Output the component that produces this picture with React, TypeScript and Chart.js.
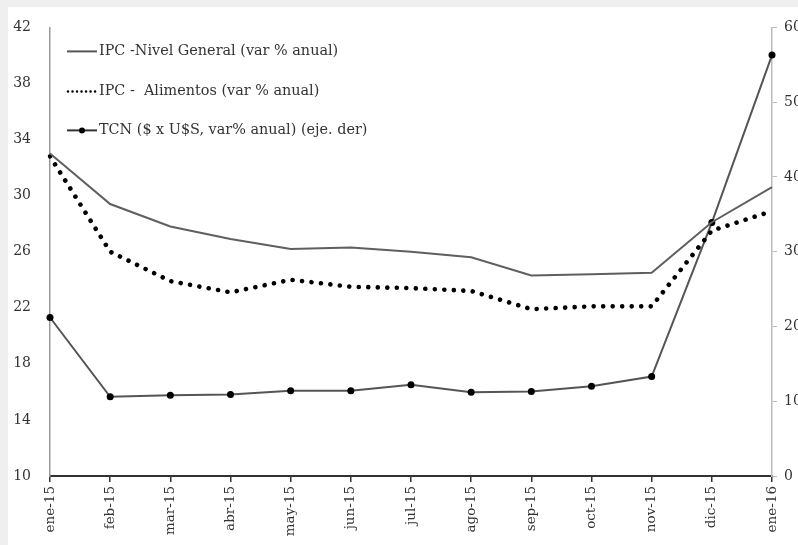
import { useEffect, useRef } from "react";
import { Chart, registerables } from "chart.js";

Chart.register(...registerables);

const categories = [
  "ene-15", "feb-15", "mar-15", "abr-15", "may-15", "jun-15", "jul-15",
  "ago-15", "sep-15", "oct-15", "nov-15", "dic-15", "ene-16",
];
const ipcGeneral = [33.0, 29.4, 27.8, 26.9, 26.2, 26.3, 26.0, 25.6, 24.3, 24.4, 24.5, 28.1, 30.6];
const ipcAlimentos = [32.8, 26.0, 23.9, 23.1, 24.0, 23.5, 23.4, 23.2, 21.9, 22.1, 22.1, 27.5, 28.9];
const tcn = [21.2, 10.6, 10.8, 10.9, 11.4, 11.4, 12.2, 11.2, 11.3, 12.0, 13.3, 33.9, 56.3];
const seriesLabels = [
  "IPC -Nivel General (var % anual)",
  "IPC -  Alimentos (var % anual)",
  "TCN ($ x U$S, var% anual) (eje. der)",
];
const leftAxis = { min: 10, max: 42, step: 4 };
const rightAxis = { min: 0, max: 60, step: 10 };

const FONT = "'DejaVu Serif', serif";
const TEXT = "#333";

const legendPlugin = {
  id: "insideLegend",
  afterDraw(chart: any) {
    const { ctx, chartArea } = chart;
    const x0 = chartArea.left + 17;
    const x1 = chartArea.left + 47;
    const rows = [chartArea.top + 24, chartArea.top + 64, chartArea.top + 103];
    ctx.save();
    // solid
    ctx.strokeStyle = "#555";
    ctx.lineWidth = 2;
    ctx.beginPath();
    ctx.moveTo(x0, rows[0]);
    ctx.lineTo(x1, rows[0]);
    ctx.stroke();
    // dotted
    ctx.strokeStyle = "#000";
    ctx.lineWidth = 2.5;
    ctx.lineCap = "round";
    ctx.setLineDash([0.01, 4.5]);
    ctx.beginPath();
    ctx.moveTo(x0 + 1, rows[1]);
    ctx.lineTo(x1, rows[1]);
    ctx.stroke();
    ctx.setLineDash([]);
    ctx.lineCap = "butt";
    // marker line
    ctx.strokeStyle = "#333";
    ctx.lineWidth = 2;
    ctx.beginPath();
    ctx.moveTo(x0, rows[2]);
    ctx.lineTo(x1, rows[2]);
    ctx.stroke();
    ctx.fillStyle = "#000";
    ctx.beginPath();
    ctx.arc((x0 + x1) / 2, rows[2], 3, 0, Math.PI * 2);
    ctx.fill();
    // text
    ctx.fillStyle = TEXT;
    ctx.font = `14.4px ${FONT}`;
    ctx.textBaseline = "middle";
    ctx.textAlign = "left";
    seriesLabels.forEach((t, i) => ctx.fillText(t, x1 + 2, rows[i]));
    ctx.restore();
  },
};

export default function App() {
  const ref = useRef<HTMLCanvasElement | null>(null);

  useEffect(() => {
    if (!ref.current) return;
    const chart = new Chart(ref.current, {
      type: "line",
      data: {
        labels: categories,
        datasets: [
          {
            label: seriesLabels[0],
            data: ipcGeneral,
            yAxisID: "y",
            borderColor: "#5f5f5f",
            borderWidth: 2,
            pointRadius: 0,
            tension: 0,
          },
          {
            label: seriesLabels[1],
            data: ipcAlimentos,
            yAxisID: "y",
            borderColor: "#000",
            borderWidth: 4.6,
            borderDash: [0.01, 9.5],
            borderCapStyle: "round",
            pointRadius: 0,
            tension: 0,
          },
          {
            label: seriesLabels[2],
            data: tcn,
            yAxisID: "y1",
            borderColor: "#555",
            borderWidth: 2,
            pointRadius: 3.5,
            pointBackgroundColor: "#000",
            pointBorderColor: "#000",
            pointBorderWidth: 0,
            tension: 0,
          },
        ],
      },
      options: {
        animation: false,
        responsive: false,
        layout: { padding: { top: 23, left: 0, right: 0, bottom: 0 } },
        plugins: { legend: { display: false }, tooltip: { enabled: false } },
        scales: {
          x: {
            offset: false,
            grid: { display: true, drawOnChartArea: false, drawTicks: true, tickLength: 6, color: "#333", lineWidth: 1.5 },
            border: { display: true, color: "#333", width: 2 },
            ticks: {
              autoSkip: false,
              maxRotation: 90,
              minRotation: 90,
              padding: 4,
              color: TEXT,
              font: { family: FONT, size: 13.5 },
            },
            afterFit(scale: any) {
              scale.height = 69;
            },
          },
          y: {
            position: "left",
            min: leftAxis.min,
            max: leftAxis.max,
            grid: { display: true, drawOnChartArea: false, drawTicks: false },
            border: { display: true, color: "#999", width: 1.5 },
            ticks: {
              stepSize: leftAxis.step,
              padding: 19,
              color: TEXT,
              font: { family: FONT, size: 14 },
            },
            afterFit(scale: any) {
              scale.width = 50;
            },
          },
          y1: {
            position: "right",
            min: rightAxis.min,
            max: rightAxis.max,
            grid: { display: true, drawOnChartArea: false, drawTicks: true, tickLength: 5, color: "#bbb" },
            border: { display: true, color: "#bbb", width: 1.5 },
            ticks: {
              stepSize: rightAxis.step,
              padding: 7,
              color: TEXT,
              font: { family: FONT, size: 14 },
            },
            afterFit(scale: any) {
              scale.width = 48;
            },
          },
        },
      },
      plugins: [legendPlugin],
    });
    return () => chart.destroy();
  }, []);

  return (
    <div style={{ position: "fixed", left: 0, top: 0, width: 798, height: 545, background: "#efefef", overflow: "hidden" }}>
      <div style={{ position: "absolute", left: 8, top: 7, right: 0, bottom: 0, background: "#fff" }} />
      <canvas ref={ref} width={820} height={545} style={{ position: "absolute", left: 0, top: 0, width: 820, height: 545 }} />
    </div>
  );
}
